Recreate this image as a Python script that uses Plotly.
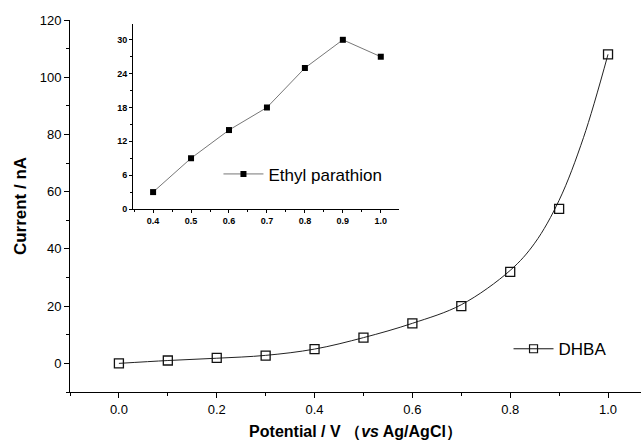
import plotly.graph_objects as go

# DHBA data (main plot)
dhba_x = [0.0, 0.1, 0.2, 0.3, 0.4, 0.5, 0.6, 0.7, 0.8, 0.9, 1.0]
dhba_y = [0.0, 1.0, 1.9, 2.7, 5.0, 9.0, 14.0, 20.0, 32.0, 54.0, 108.0]

# fitted curve
fit_x = [0.0, 0.1, 0.2, 0.3, 0.4, 0.5, 0.6, 0.7, 0.8, 0.85, 0.9, 0.95, 1.0]
fit_y = [0.0, 1.0, 1.8, 2.8, 5.0, 9.0, 14.0, 20.5, 32.5, 42.0, 57.0, 79.0, 108.0]

# Ethyl parathion data (inset)
ep_x = [0.4, 0.5, 0.6, 0.7, 0.8, 0.9, 1.0]
ep_y = [3.0, 9.0, 14.0, 18.0, 25.0, 30.0, 27.0]

FONT = "Liberation Sans, Arial, sans-serif"

fig = go.Figure()

fig.add_trace(go.Scatter(x=fit_x, y=fit_y, mode="lines",
                         line=dict(color="#222", width=1, shape="spline", smoothing=1.0),
                         showlegend=False, hoverinfo="skip"))
fig.add_trace(go.Scatter(x=dhba_x, y=dhba_y, mode="markers",
                         marker=dict(symbol="square-open", size=9, color="#111",
                                     line=dict(width=1.3, color="#111")),
                         showlegend=False))
fig.add_trace(go.Scatter(x=[None], y=[None], mode="lines+markers", name="DHBA",
                         line=dict(color="#111", width=1),
                         marker=dict(symbol="square-open", size=8, color="#111",
                                     line=dict(width=1.2, color="#111")),
                         legend="legend"))

fig.add_trace(go.Scatter(x=ep_x, y=ep_y, mode="lines+markers", name="Ethyl parathion",
                         xaxis="x2", yaxis="y2",
                         line=dict(color="#777", width=1),
                         marker=dict(symbol="square", size=6, color="#000"),
                         legend="legend2"))

axis_common = dict(showline=True, linecolor="#000", linewidth=1, showgrid=False,
                   zeroline=False, ticks="outside", tickcolor="#000", mirror=False)

fig.update_layout(
    width=641, height=446,
    margin=dict(l=70, r=0, t=20, b=54),
    paper_bgcolor="white", plot_bgcolor="white",
    font=dict(family=FONT, color="#000"),
    xaxis=dict(**axis_common, range=[-0.1, 1.0674], tick0=0, dtick=0.2, tickformat=".1f",
               ticklen=5, tickfont=dict(size=13),
               minor=dict(ticks="outside", ticklen=3, dtick=0.1, tick0=0, tickcolor="#000"),
               title=dict(text="<b>Potential / V （<i>vs</i> Ag/AgCl）</b>",
                          font=dict(size=16), standoff=10)),
    yaxis=dict(**axis_common, range=[-10, 120], tick0=0, dtick=20,
               ticklen=5, tickfont=dict(size=13),
               minor=dict(ticks="outside", ticklen=3, dtick=10, tick0=0, tickcolor="#000"),
               title=dict(text="<b>Current / nA</b>", font=dict(size=17), standoff=8)),
    xaxis2=dict(**axis_common, domain=[0.1103, 0.5762], anchor="y2",
                range=[0.347, 1.048], tick0=0.4, dtick=0.1, tickformat=".1f",
                ticklen=3, tickfont=dict(size=9, weight="bold"),
                minor=dict(ticks="outside", ticklen=2, dtick=0.05, tick0=0.4, tickcolor="#000")),
    yaxis2=dict(**axis_common, domain=[0.4919, 0.9892], anchor="x2",
                range=[0, 32.8], tick0=0, dtick=6,
                ticklen=3, tickfont=dict(size=9, weight="bold"),
                minor=dict(ticks="outside", ticklen=2, dtick=3, tick0=0, tickcolor="#000")),
    legend=dict(x=0.768, y=0.115, xanchor="left", yanchor="middle", itemwidth=40,
                bgcolor="rgba(0,0,0,0)", font=dict(size=17)),
    legend2=dict(x=0.26, y=0.585, xanchor="left", yanchor="middle", itemwidth=40,
                 bgcolor="rgba(0,0,0,0)", font=dict(size=17)),
)

fig.write_html("out.html", config={"displayModeBar": False},
               post_script="document.body.style.margin='0';")
